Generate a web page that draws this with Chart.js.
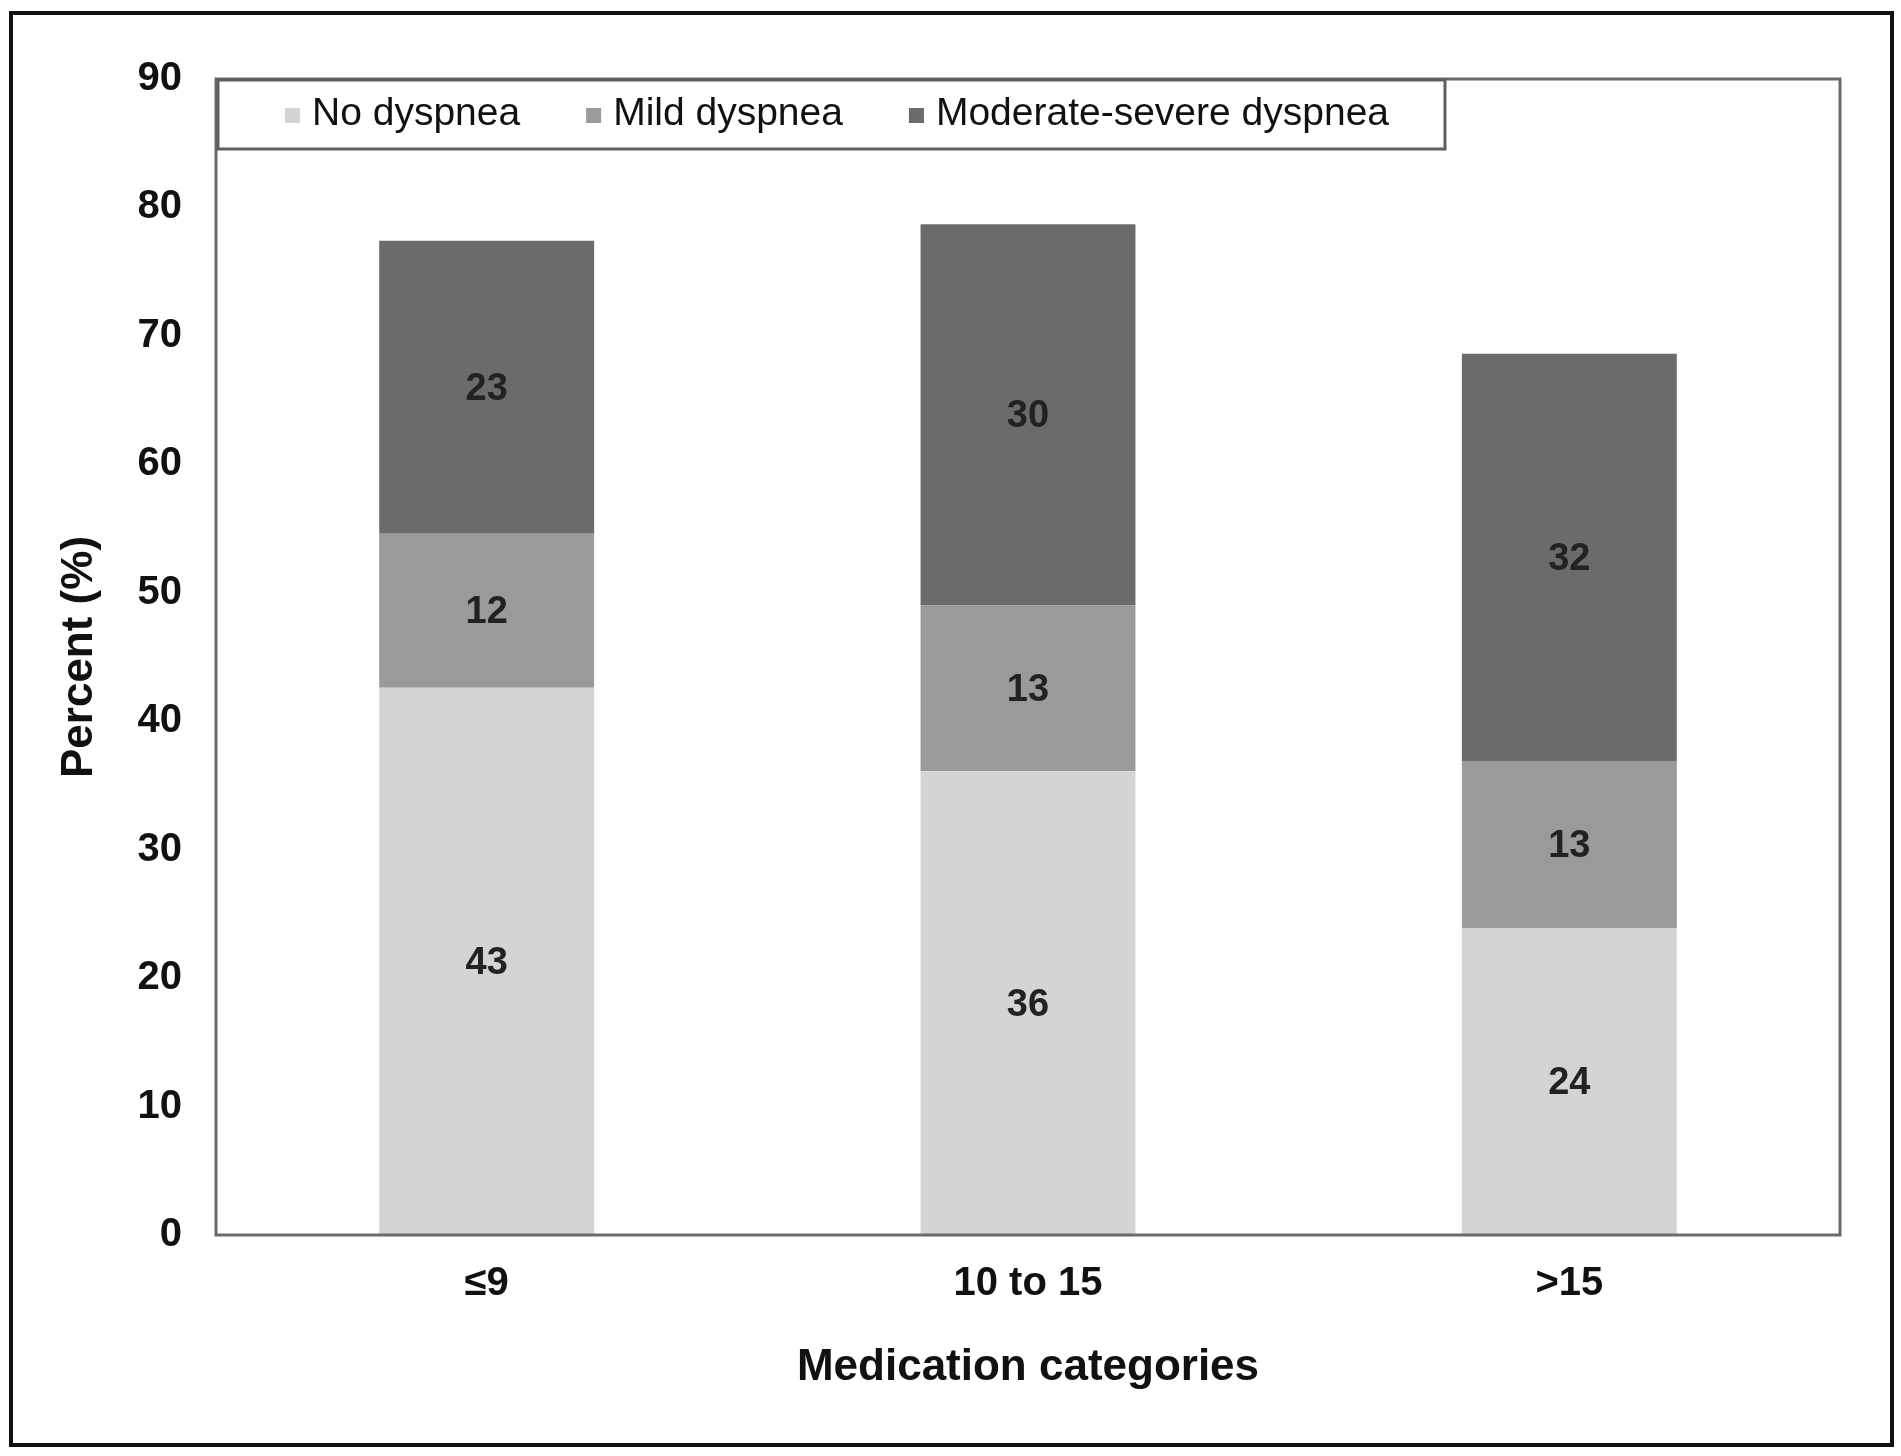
<!DOCTYPE html>
<html>
<head>
<meta charset="utf-8">
<script src="https://cdn.jsdelivr.net/npm/chart.js@4.4.1/dist/chart.umd.min.js"></script>
<style>
    html, body { margin: 0; padding: 0; background: #fff; }
    #frame {
        position: absolute;
        left: 9px;
        top: 11px;
        width: 1877px;
        height: 1428px;
        border: 4px solid #111;
        background: #fff;
    }
    canvas { display: block; }
</style>
</head>
<body>
<div id="frame"><canvas id="barChart" width="1877" height="1428"></canvas></div>
<script>
// categories and series (percent)
const categories = ['≤9', '10 to 15', '>15'];
const seriesNames = ['No dyspnea', 'Mild dyspnea', 'Moderate-severe dyspnea'];
const noDyspnea = [42.6, 36.1, 23.9];
const mildDyspnea = [12.0, 12.9, 13.0];
const severeDyspnea = [22.8, 29.7, 31.7];
const yTicks = [0, 10, 20, 30, 40, 50, 60, 70, 80, 90];

const colors = ['#d4d4d4', '#9a9a9a', '#6b6b6b'];
const fontFamily = '"Liberation Sans", Arial, sans-serif';

// box round the plot, legend inside it, numbers in the bars
const boxPlugin = {
    id: 'boxPlugin',
    afterDatasetsDraw(chart) {
        const ctx = chart.ctx;
        const area = chart.chartArea;

        // numbers in the middle of each piece
        ctx.save();
        ctx.font = 'bold 38px ' + fontFamily;
        ctx.fillStyle = '#222';
        ctx.textAlign = 'center';
        ctx.textBaseline = 'middle';
        chart.data.datasets.forEach((ds, i) => {
            const meta = chart.getDatasetMeta(i);
            meta.data.forEach((bar, j) => {
                const y = (bar.y + bar.base) / 2;
                ctx.fillText(Math.round(ds.data[j]), bar.x, y + 2);
            });
        });
        ctx.restore();

        // plot area border
        ctx.save();
        ctx.strokeStyle = '#6a6a6a';
        ctx.lineWidth = 3;
        ctx.strokeRect(area.left, area.top, area.right - area.left, area.bottom - area.top);

        // legend box
        const boxW = 1227, boxH = 69;
        ctx.fillStyle = '#fff';
        ctx.fillRect(area.left + 2, area.top + 1, boxW, boxH);
        ctx.strokeStyle = '#5e5e5e';
        ctx.lineWidth = 3;
        ctx.strokeRect(area.left + 2, area.top + 1, boxW, boxH);

        ctx.font = '39px ' + fontFamily;
        ctx.textAlign = 'left';
        ctx.textBaseline = 'middle';
        let x = area.left + 69;
        const cy = area.top + 35;
        chart.data.datasets.forEach(ds => {
            ctx.fillStyle = ds.backgroundColor;
            ctx.fillRect(x, cy - 6, 15, 15);
            ctx.fillStyle = '#111';
            ctx.fillText(ds.label, x + 27, cy);
            x += 27 + ctx.measureText(ds.label).width + 66;
        });
        ctx.restore();
    }
};

document.addEventListener('DOMContentLoaded', function() {
    const ctx = document.getElementById('barChart').getContext('2d');
    const values = [noDyspnea, mildDyspnea, severeDyspnea];

    new Chart(ctx, {
        type: 'bar',
        data: {
            labels: categories,
            datasets: seriesNames.map((name, i) => ({
                label: name,
                data: values[i],
                backgroundColor: colors[i],
                borderWidth: 0,
                barPercentage: 0.397,
                categoryPercentage: 1.0
            }))
        },
        options: {
            responsive: false,
            animation: false,
            layout: {
                padding: { left: 0, top: 64, right: 50, bottom: 0 }
            },
            plugins: {
                legend: { display: false },
                tooltip: { enabled: false }
            },
            scales: {
                x: {
                    stacked: true,
                    grid: { display: false },
                    border: { display: false },
                    ticks: {
                        color: '#111',
                        padding: 17,
                        font: { family: fontFamily, size: 40, weight: 'bold' }
                    },
                    title: {
                        display: true,
                        text: 'Medication categories',
                        color: '#111',
                        padding: { top: 0, bottom: 49 },
                        font: { family: fontFamily, size: 44, weight: 'bold' }
                    },
                    afterFit: scale => { scale.height = 208; }
                },
                y: {
                    stacked: true,
                    min: yTicks[0],
                    max: yTicks[yTicks.length - 1],
                    grid: { display: false },
                    border: { display: false },
                    afterBuildTicks: scale => {
                        scale.ticks = yTicks.map(v => ({ value: v }));
                    },
                    ticks: {
                        color: '#111',
                        padding: 26,
                        font: { family: fontFamily, size: 40, weight: 'bold' }
                    },
                    title: {
                        display: true,
                        text: 'Percent (%)',
                        color: '#111',
                        padding: { top: 40, bottom: 0 },
                        font: { family: fontFamily, size: 44, weight: 'bold' }
                    },
                    afterFit: scale => { scale.width = 203; }
                }
            }
        },
        plugins: [boxPlugin]
    });
});
</script>
</body>
</html>
